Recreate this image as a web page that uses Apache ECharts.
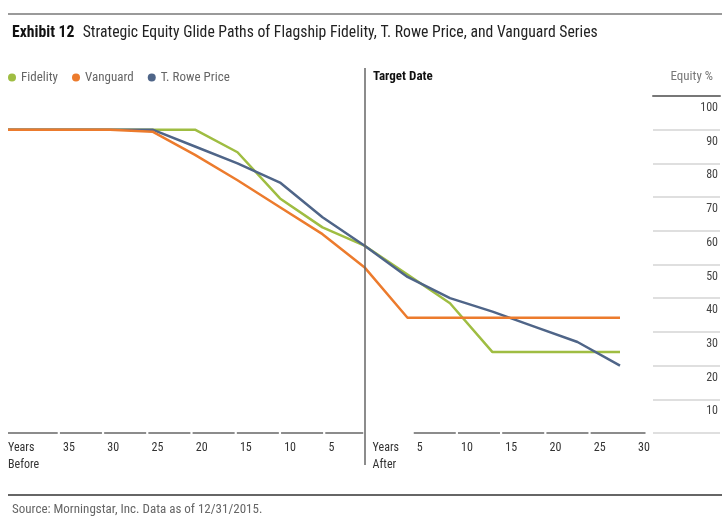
<!DOCTYPE html>
<html><head><meta charset="utf-8">
<script src="https://cdn.jsdelivr.net/npm/echarts@6/dist/echarts.min.js"></script>
<style>html,body{margin:0;padding:0;background:#fff}#c{width:728px;height:528px}</style>
</head><body><div id="c"></div>
<script>
// ---- data ----
const years      = [-42, -35, -30, -25, -20, -15, -10, -5, 0, 5, 10, 15, 20, 25, 30];
const fidelity   = [90, 90, 90, 90, 90, 83.3, 69.6, 61, 55.5, 47, 38.5, 24, 24, 24, 24];
const vanguard   = [90, 90, 90, 89.4, 82.5, 75, 67, 59, 49, 34.2, 34.2, 34.2, 34.2, 34.2, 34.2];
const troweprice = [90, 90, 90, 90, 85, 80, 74.3, 64, 55.5, 46.3, 40, 36, 31.5, 27, 20];
const seriesNames = ['Fidelity', 'Vanguard', 'T. Rowe Price'];
const beforeTicks = [35, 30, 25, 20, 15, 10, 5];
const afterTicks  = [5, 10, 15, 20, 25, 30];
const yTickMax = 100, yTickStep = 10;

// ---- layout helpers ----
const FONT = "'Liberation Sans Narrow', 'Arial Narrow', 'Roboto Condensed', 'DejaVu Sans Condensed', Roboto, sans-serif";
const LABEL_MIN = -41.22, LABEL_MAX = 30.85, TARGET_L = -0.86;
const colors = ['#9fbd42', '#ec7b2d', '#4f6588'];

const pairs = arr => years.map((x, i) => [x, arr[i]]);

const segs = [];
segs.push([LABEL_MIN, -beforeTicks[0] - 0.6, 0]);
beforeTicks.forEach((t, i) => {
  const s = -t - 0.35;
  const e = i < beforeTicks.length - 1 ? -beforeTicks[i + 1] - 0.6 : TARGET_L - 0.2;
  segs.push([s, e, 0]);
});
afterTicks.forEach((t, i) => {
  const n = afterTicks.length;
  if (i === n - 1) return;              // last column shares the previous rule
  const s = t - 0.35;
  const e = i < n - 2 ? afterTicks[i + 1] - 0.6 : LABEL_MAX;
  segs.push([s, e, 0]);
});
const labelValues = [LABEL_MIN].concat(beforeTicks.map(t => -t), [0], afterTicks);

const chart = echarts.init(document.getElementById('c'), null, {renderer: 'canvas'});
chart.setOption({
  animation: false,
  textStyle: {fontFamily: FONT},
  title: [
    {text: '{b|Exhibit 12}  {n|Strategic Equity Glide Paths of Flagship Fidelity, T. Rowe Price, and Vanguard Series}',
     left: 7, top: 19,
     textStyle: {fontFamily: FONT, fontWeight: 'normal', rich: {
       b: {fontFamily: FONT, fontWeight: 'bold', fontSize: 15.7, color: '#111'},
       n: {fontFamily: FONT, fontWeight: 'normal', fontSize: 15.7, color: '#222'}}}},
    {text: 'Target Date', left: 368, top: 65,
     textStyle: {fontFamily: FONT, fontWeight: 'bold', fontSize: 13, color: '#111'}},
    {text: 'Equity %', right: 10, top: 65,
     textStyle: {fontFamily: FONT, fontWeight: 'normal', fontSize: 13, color: '#777'}},
    {text: 'Source: Morningstar, Inc. Data as of 12/31/2015.', left: 7, top: 498,
     textStyle: {fontFamily: FONT, fontWeight: 'normal', fontSize: 13, color: '#666'}}
  ],
  legend: {
    data: seriesNames, left: 3, top: 66, icon: 'circle', itemWidth: 8, itemHeight: 8, itemGap: 14,
    textStyle: {fontFamily: FONT, fontSize: 13, color: '#666'}
  },
  graphic: [
    {type: 'line', shape: {x1: 8, y1: 14, x2: 722, y2: 14}, style: {stroke: '#9a9a9a', lineWidth: 2}},
    {type: 'line', shape: {x1: 8, y1: 495, x2: 722, y2: 495}, style: {stroke: '#666', lineWidth: 2}}
  ],
  grid: [
    {left: 8, right: 82.5, top: 68, bottom: 63},
    {left: 653, right: 8, top: 96, bottom: 95}
  ],
  xAxis: [
    {gridIndex: 0, type: 'value', min: -42, max: 33, show: false},
    {gridIndex: 0, type: 'value', min: LABEL_MIN, max: LABEL_MAX, position: 'bottom', offset: -32,
     axisLine: {show: false, onZero: false}, axisTick: {show: false}, splitLine: {show: false},
     axisLabel: {customValues: labelValues, align: 'left', margin: 6, fontSize: 12, color: '#333',
       lineHeight: 17, fontFamily: FONT,
       formatter: v => v < -40 ? 'Years\nBefore' : (v === 0 ? 'Years\nAfter' : String(Math.abs(v)))}},
    {gridIndex: 1, type: 'value', min: 0, max: 1, position: 'top',
     axisLine: {show: true, onZero: false, lineStyle: {color: '#777', width: 2}},
     axisTick: {show: false}, axisLabel: {show: false}, splitLine: {show: false}}
  ],
  yAxis: [
    {gridIndex: 0, type: 'value', min: -9.5, max: 108.3, show: false},
    {gridIndex: 1, type: 'value', min: 0, max: yTickMax, interval: yTickStep, position: 'right',
     axisLine: {show: false}, axisTick: {show: false},
     splitLine: {show: true, lineStyle: {color: '#d4d4d4', width: 1.5}},
     axisLabel: {inside: true, align: 'right', verticalAlign: 'top', margin: 2, padding: [6, 0, 0, 0],
       fontSize: 12, color: '#444', showMinLabel: false, fontFamily: FONT}}
  ],
  series: [
    {name: seriesNames[0], type: 'line', data: pairs(fidelity), showSymbol: false, symbol: 'none', z: 2,
     lineStyle: {width: 2.5, color: colors[0]}, itemStyle: {color: colors[0]},
     markLine: {silent: true, symbol: 'none', label: {show: false},
       lineStyle: {color: '#666', width: 1.5, type: 'solid'}, data: [{xAxis: 0}]}},
    {name: seriesNames[1], type: 'line', data: pairs(vanguard), showSymbol: false, symbol: 'none', z: 4,
     lineStyle: {width: 2.5, color: colors[1]}, itemStyle: {color: colors[1]}},
    {name: seriesNames[2], type: 'line', data: pairs(troweprice), showSymbol: false, symbol: 'none', z: 3,
     lineStyle: {width: 2.5, color: colors[2]}, itemStyle: {color: colors[2]}},
    {type: 'custom', xAxisIndex: 1, yAxisIndex: 0, data: segs, encode: {x: [0, 1], y: 2}, silent: true,
     renderItem: (params, api) => {
       const a = api.coord([api.value(0), 0]);
       const b = api.coord([api.value(1), 0]);
       return {type: 'line', shape: {x1: a[0], y1: a[1], x2: b[0], y2: b[1]},
               style: {stroke: '#8c8c8c', lineWidth: 2}};
     }}
  ]
});
</script></body></html>
